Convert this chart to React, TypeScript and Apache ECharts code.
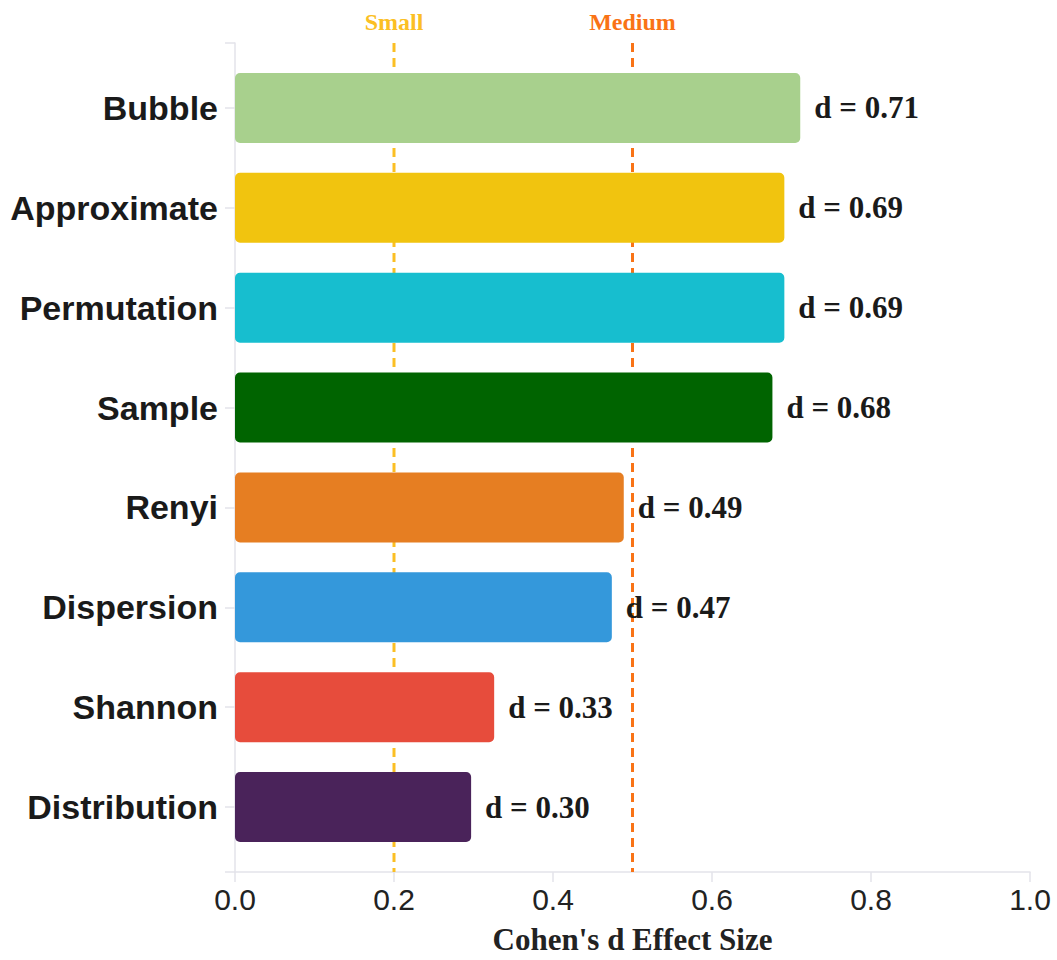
import React, { useEffect, useRef } from "react";
import * as echarts from "echarts";

const categories = ["Bubble", "Approximate", "Permutation", "Sample", "Renyi", "Dispersion", "Shannon", "Distribution"];
const effectSizes = [0.711, 0.691, 0.691, 0.676, 0.489, 0.474, 0.326, 0.297];
const barColors = ["#a8d08d", "#f1c40f", "#17becf", "#006400", "#e67e22", "#3498db", "#e74c3c", "#4a235a"];
const thresholdValues = [0.2, 0.5];
const thresholdNames = ["Small", "Medium"];
const thresholdColors = ["#fbbf24", "#f97316"];
const xTicks = [0, 0.2, 0.4, 0.6, 0.8, 1.0];

const Y_MIN = -0.65;
const Y_MAX = 7.65;

export default function App() {
  const ref = useRef<HTMLDivElement>(null);
  useEffect(() => {
    document.body.style.margin = "0";
    if (!ref.current) return;
    const chart = echarts.init(ref.current, null, { renderer: "svg" });
    const isInt = (v: number) => Math.abs(v - Math.round(v)) < 1e-6;
    chart.setOption({
      animation: false,
      backgroundColor: "#ffffff",
      grid: { left: 235, right: 27, top: 43, bottom: 87 },
      xAxis: {
        type: "value",
        min: xTicks[0],
        max: xTicks[xTicks.length - 1],
        interval: 0.2,
        axisLine: { show: true, onZero: false, lineStyle: { color: "#e3e3ea", width: 1.5 } },
        axisTick: { show: true, length: 10, lineStyle: { color: "#e3e3ea", width: 1.5 } },
        splitLine: { show: false },
        axisLabel: {
          formatter: (v: number) => v.toFixed(1),
          fontSize: 30,
          color: "#222222",
          fontFamily: "Liberation Sans",
          margin: 12,
        },
        name: "Cohen's d Effect Size",
        nameLocation: "middle",
        nameGap: 52,
        nameTextStyle: {
          fontFamily: "Liberation Serif",
          fontWeight: "bold",
          fontSize: 31,
          color: "#222222",
        },
      },
      yAxis: {
        type: "value",
        inverse: true,
        min: Y_MIN,
        max: Y_MAX,
        minInterval: 1,
        maxInterval: 1,
        axisLine: { show: true, onZero: false, lineStyle: { color: "#e3e3ea", width: 1.5 } },
        axisTick: { show: true, length: 10, lineStyle: { color: "#e3e3ea", width: 1.5 } },
        splitLine: { show: false },
        axisLabel: {
          formatter: (v: number) => (isInt(v) ? categories[Math.round(v)] || "" : ""),
          fontSize: 34,
          fontWeight: "bold",
          color: "#1a1a1a",
          fontFamily: "Liberation Sans",
          margin: 17,
          showMinLabel: true,
          showMaxLabel: true,
        },
      },
      series: [
        {
          type: "custom",
          z: 1,
          clip: false,
          data: thresholdValues.map((v, i) => [v, i]),
          renderItem: (params: any, api: any) => {
            const x = api.value(0);
            const i = params.dataIndex;
            const top = api.coord([x, Y_MIN]);
            const bottom = api.coord([x, Y_MAX]);
            return {
              type: "group",
              children: [
                {
                  type: "line",
                  shape: { x1: top[0], y1: top[1], x2: bottom[0], y2: bottom[1] },
                  style: { stroke: thresholdColors[i], lineWidth: 3, lineDash: [9, 6] },
                },
                {
                  type: "text",
                  style: {
                    text: thresholdNames[i],
                    x: top[0],
                    y: top[1] - 21,
                    align: "center",
                    verticalAlign: "middle",
                    fill: thresholdColors[i],
                    font: "bold 24px 'Liberation Serif'",
                  },
                },
              ],
            };
          },
        },
        {
          type: "custom",
          z: 2,
          clip: false,
          data: effectSizes.map((v, i) => [v, i]),
          renderItem: (params: any, api: any) => {
            const x = api.value(0);
            const y = api.value(1);
            const i = params.dataIndex;
            const start = api.coord([0, y]);
            const end = api.coord([x, y]);
            const h = api.size([0, 1])[1] * 0.7;
            return {
              type: "group",
              children: [
                {
                  type: "rect",
                  shape: { x: start[0], y: start[1] - h / 2, width: end[0] - start[0], height: h, r: 5 },
                  style: { fill: barColors[i] },
                },
                {
                  type: "text",
                  style: {
                    text: "d = " + x.toFixed(2),
                    x: end[0] + 14,
                    y: end[1],
                    align: "left",
                    verticalAlign: "middle",
                    fill: "#1a1a1a",
                    font: "bold 31px 'Liberation Serif'",
                  },
                },
              ],
            };
          },
        },
      ],
    });
    return () => chart.dispose();
  }, []);
  return <div ref={ref} style={{ width: 1057, height: 960 }} />;
}
